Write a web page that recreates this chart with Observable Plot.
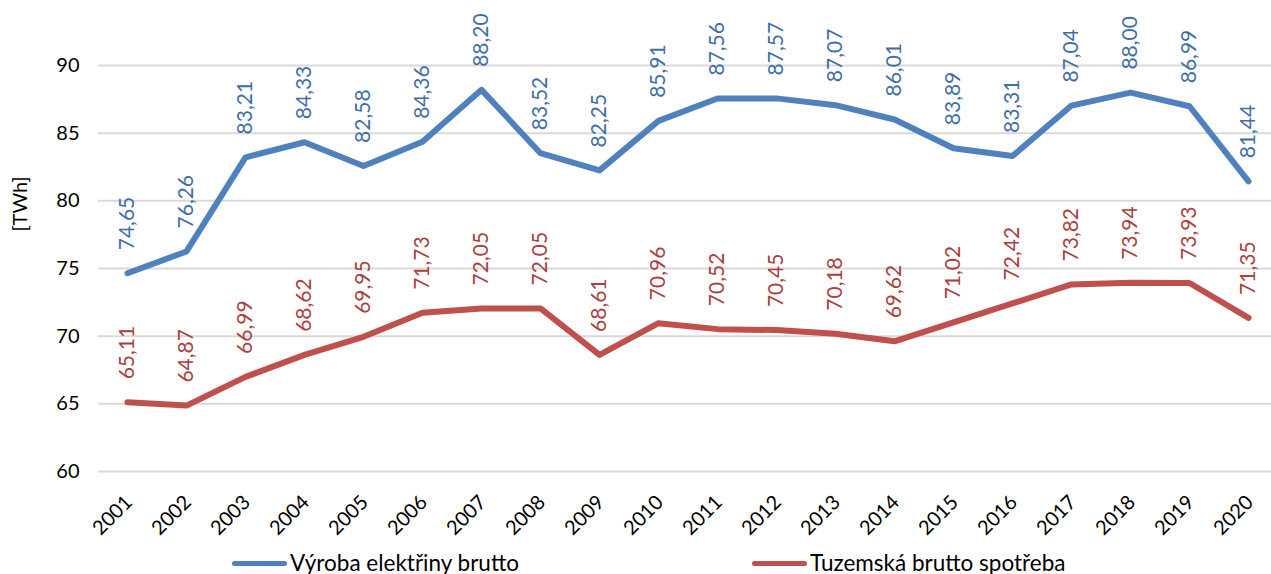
<!DOCTYPE html>
<html>
<head>
<meta charset="utf-8">
<script src="https://cdn.jsdelivr.net/npm/d3@7"></script>
<script src="https://cdn.jsdelivr.net/npm/@observablehq/plot@0.6"></script>
<style>
  body { margin: 0; background: #fff; font-family: Lato, "Open Sans", sans-serif; }
  #chart svg { overflow: visible; }
  .legend { position: relative; height: 29px; font-size: 22.5px; color: #000; overflow: visible; }
  .legend .item { position: absolute; top: 6px; display: flex; align-items: center; line-height: 24px; white-space: nowrap; }
  .legend .sw { width: 55px; height: 5px; border-radius: 3px; margin-right: 3px; }
</style>
</head>
<body>
<div id="chart"></div>
<div class="legend" id="legend"></div>
<script>
const years = ["2001","2002","2003","2004","2005","2006","2007","2008","2009","2010","2011","2012","2013","2014","2015","2016","2017","2018","2019","2020"];
const vyroba = [74.65, 76.26, 83.21, 84.33, 82.58, 84.36, 88.20, 83.52, 82.25, 85.91, 87.56, 87.57, 87.07, 86.01, 83.89, 83.31, 87.04, 88.00, 86.99, 81.44];
const spotreba = [65.11, 64.87, 66.99, 68.62, 69.95, 71.73, 72.05, 72.05, 68.61, 70.96, 70.52, 70.45, 70.18, 69.62, 71.02, 72.42, 73.82, 73.94, 73.93, 71.35];
const seriesNames = ["Výroba elektřiny brutto", "Tuzemská brutto spotřeba"];
const yTicks = [60, 65, 70, 75, 80, 85, 90];
const yLabel = "[TWh]";

const lineColors = ["#4f81bd", "#c0504d"];
const textColors = ["#3f6ea7", "#a9413e"];

const rowsA = years.map((y, i) => ({year: y, value: vyroba[i]}));
const rowsB = years.map((y, i) => ({year: y, value: spotreba[i]}));
const fmt = v => v.toFixed(2).replace(".", ",");

const chart = Plot.plot({
  width: 1271,
  height: 545,
  marginLeft: 98,
  marginRight: 0,
  marginTop: 65,
  marginBottom: 74,
  style: {fontFamily: "Lato, 'Open Sans', sans-serif", fontSize: "20px", color: "#000", background: "#fff"},
  x: {type: "point", domain: years, range: [127, 1248], padding: 0, axis: null},
  y: {domain: [60, 90]},
  marks: [
    Plot.ruleY(yTicks, {stroke: "#d9d9d9", strokeWidth: 2}),
    Plot.axisY({ticks: yTicks, tickSize: 0, tickPadding: 19, label: null, fontSize: 20, tickFormat: d => String(d)}),
    Plot.text(years, {x: d => d, frameAnchor: "bottom", rotate: -45, textAnchor: "end", lineAnchor: "bottom", dx: 6, dy: 32, fontSize: 20, fill: "#000"}),
    Plot.text([yLabel], {frameAnchor: "left", rotate: -90, dx: -78, dy: -37, fontSize: 20, fill: "#000"}),
    Plot.line(rowsA, {x: "year", y: "value", stroke: lineColors[0], strokeWidth: 6, strokeLinejoin: "round"}),
    Plot.line(rowsB, {x: "year", y: "value", stroke: lineColors[1], strokeWidth: 6, strokeLinejoin: "round"}),
    Plot.text(rowsA, {x: "year", y: "value", text: d => fmt(d.value), rotate: -90, textAnchor: "start", lineAnchor: "middle", dy: -23, fill: textColors[0], fontSize: 21}),
    Plot.text(rowsB, {x: "year", y: "value", text: d => fmt(d.value), rotate: -90, textAnchor: "start", lineAnchor: "middle", dy: -23, fill: textColors[1], fontSize: 21})
  ]
});
document.getElementById("chart").append(chart);

const legend = document.getElementById("legend");
const lefts = [232, 752];
seriesNames.forEach((name, i) => {
  const item = document.createElement("div");
  item.className = "item";
  item.style.left = lefts[i] + "px";
  const sw = document.createElement("span");
  sw.className = "sw";
  sw.style.background = lineColors[i];
  const t = document.createElement("span");
  t.textContent = name;
  item.append(sw, t);
  legend.append(item);
});
</script>
</body>
</html>
